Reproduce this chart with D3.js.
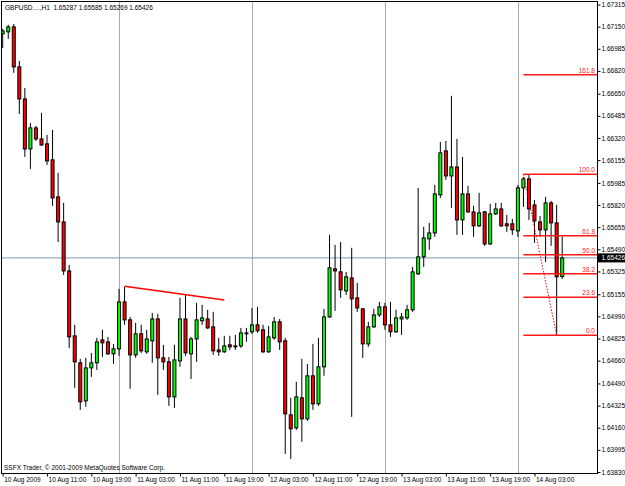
<!DOCTYPE html>
<meta charset="utf-8">
<title>GBPUSD H1</title>
<script src="https://d3js.org/d3.v7.min.js"></script>
<style>
    body { margin: 0; background: #fff; }
    svg text { font-family: "Liberation Sans", Arial, sans-serif; font-size: 6.5px; fill: #000; white-space: pre; }
</style>
<body>
<div id="chart"></div>
<script type="text/javascript">
    // H1 bars, 10 Aug 2009 03:00 .. 14 Aug 2009 08:00
    var opens = [1.67096, 1.67111, 1.67148, 1.66850, 1.66611, 1.66238, 1.66395, 1.66313, 1.66276, 1.66157,
        1.65881, 1.65694, 1.65329, 1.64845, 1.64644, 1.64360, 1.64606, 1.64644, 1.64815, 1.64800,
        1.64711, 1.64748, 1.65098, 1.64964, 1.64703, 1.64860, 1.64726, 1.64808, 1.64971, 1.64681,
        1.64651, 1.64390, 1.64658, 1.64971, 1.64711, 1.64822, 1.64957, 1.64971, 1.64912, 1.64740,
        1.64726, 1.64778, 1.64770, 1.64770, 1.64860, 1.64875, 1.64927, 1.64890, 1.64726, 1.64830,
        1.64949, 1.64808, 1.64256, 1.64159, 1.64383, 1.64226, 1.64547, 1.64338, 1.64614, 1.64986,
        1.65344, 1.65322, 1.65180, 1.65277, 1.65128, 1.65046, 1.64785, 1.64912, 1.65001, 1.65061,
        1.64927, 1.64875, 1.64971, 1.64979, 1.65039, 1.65307, 1.65434, 1.65568, 1.65612, 1.65896,
        1.66224, 1.66037, 1.66104, 1.65709, 1.65903, 1.65769, 1.65665, 1.65769, 1.65530, 1.65754,
        1.65791, 1.65680, 1.65680, 1.65627, 1.65948, 1.66015, 1.65821, 1.65694, 1.65635, 1.65836,
        1.65687, 1.65287];
    var highs = [1.67133, 1.67163, 1.67170, 1.66894, 1.66693, 1.66432, 1.66410, 1.66507, 1.66343, 1.66380,
        1.66060, 1.65836, 1.65374, 1.64927, 1.64673, 1.64681, 1.64718, 1.64830, 1.64890, 1.64837,
        1.64785, 1.65195, 1.65210, 1.64986, 1.64942, 1.64927, 1.64890, 1.65016, 1.65009, 1.64778,
        1.64688, 1.64778, 1.65128, 1.65150, 1.64837, 1.65091, 1.65076, 1.65039, 1.65024, 1.64830,
        1.64845, 1.64845, 1.64852, 1.64904, 1.64904, 1.65053, 1.65061, 1.64927, 1.64919, 1.64986,
        1.64971, 1.64830, 1.64383, 1.64502, 1.64673, 1.64636, 1.64785, 1.64830, 1.65046, 1.65598,
        1.65523, 1.65545, 1.65322, 1.65501, 1.65240, 1.65053, 1.64949, 1.65046, 1.65098, 1.65091,
        1.65098, 1.65039, 1.65016, 1.65076, 1.65359, 1.65948, 1.65657, 1.65687, 1.65970, 1.66291,
        1.66298, 1.66634, 1.66313, 1.66179, 1.65963, 1.65814, 1.65911, 1.65776, 1.65829, 1.65836,
        1.65836, 1.65747, 1.65717, 1.65970, 1.66030, 1.66050, 1.65858, 1.65739, 1.65881, 1.65851,
        1.65821, 1.65585];
    var lows = [1.66991, 1.67058, 1.66805, 1.66499, 1.66179, 1.66089, 1.66298, 1.66261, 1.66119, 1.65814,
        1.65545, 1.65299, 1.64755, 1.64457, 1.64293, 1.64316, 1.64539, 1.64591, 1.64688, 1.64703,
        1.64636, 1.64696, 1.64927, 1.64450, 1.64681, 1.64718, 1.64711, 1.64644, 1.64405, 1.64591,
        1.64323, 1.64308, 1.64614, 1.64696, 1.64524, 1.64651, 1.64927, 1.64897, 1.64703, 1.64696,
        1.64718, 1.64740, 1.64740, 1.64755, 1.64800, 1.64860, 1.64867, 1.64718, 1.64718, 1.64815,
        1.64740, 1.63965, 1.63928, 1.64144, 1.64055, 1.64211, 1.64293, 1.64323, 1.64547, 1.64979,
        1.65031, 1.65128, 1.65150, 1.64241, 1.65024, 1.64681, 1.64763, 1.64904, 1.64986, 1.64890,
        1.64837, 1.64867, 1.64852, 1.64964, 1.65024, 1.65299, 1.65359, 1.65486, 1.65583, 1.65873,
        1.66007, 1.65799, 1.65598, 1.65598, 1.65762, 1.65583, 1.65657, 1.65516, 1.65523, 1.65747,
        1.65657, 1.65620, 1.65598, 1.65583, 1.65806, 1.65709, 1.65538, 1.65583, 1.65396, 1.65516,
        1.64850, 1.65269];
    var closes = [1.67118, 1.67148, 1.66850, 1.66611, 1.66238, 1.66395, 1.66313, 1.66268, 1.66149, 1.65873,
        1.65694, 1.65329, 1.64837, 1.64651, 1.64353, 1.64606, 1.64644, 1.64800, 1.64793, 1.64711,
        1.64748, 1.65098, 1.64964, 1.64703, 1.64860, 1.64733, 1.64822, 1.64971, 1.64681, 1.64651,
        1.64390, 1.64666, 1.64971, 1.64718, 1.64822, 1.64964, 1.64979, 1.64904, 1.64733, 1.64726,
        1.64770, 1.64763, 1.64763, 1.64867, 1.64867, 1.64927, 1.64882, 1.64726, 1.64837, 1.64949,
        1.64800, 1.64264, 1.64152, 1.64390, 1.64226, 1.64547, 1.64338, 1.64614, 1.64986, 1.65352,
        1.65329, 1.65188, 1.65285, 1.65121, 1.65053, 1.64785, 1.64912, 1.65001, 1.65061, 1.64927,
        1.64875, 1.64979, 1.64986, 1.65039, 1.65322, 1.65434, 1.65575, 1.65612, 1.65903, 1.66209,
        1.66037, 1.66104, 1.65709, 1.65903, 1.65769, 1.65665, 1.65762, 1.65530, 1.65754, 1.65791,
        1.65665, 1.65665, 1.65635, 1.65948, 1.66015, 1.65791, 1.65702, 1.65635, 1.65836, 1.65687,
        1.65285, 1.65426];

    var timeLabels = ["10 Aug 2009", "10 Aug 11:00", "10 Aug 19:00", "11 Aug 03:00", "11 Aug 11:00",
        "11 Aug 19:00", "12 Aug 03:00", "12 Aug 11:00", "12 Aug 19:00", "13 Aug 03:00",
        "13 Aug 11:00", "13 Aug 19:00", "14 Aug 03:00"];
    var labelBars = [0, 8, 16, 24, 32, 40, 48, 56, 64, 72, 80, 88, 96];
    var daySeparators = [21, 45, 69, 93];   // first bar of 11, 12, 13, 14 Aug

    var priceTicks = [1.67315, 1.67150, 1.66985, 1.66820, 1.66650, 1.66485, 1.66320, 1.66155, 1.65985,
        1.65820, 1.65655, 1.65490, 1.65325, 1.65155, 1.64990, 1.64825, 1.64660, 1.64490, 1.64325,
        1.64160, 1.63995, 1.63830];

    var bid = 1.65426;
    var trendBars = [22, 40];
    var trendPrices = [1.65214, 1.65113];
    var fiboBars = [94, 100];
    var fiboPrices = [1.66050, 1.64850];
    var fiboLevels = [0, 23.6, 38.2, 50, 61.8, 100, 161.8];

    var width = 625, height = 486;
    var plotL = 1.5, plotT = 1.5, plotR = 597.5, plotB = 473.5;

    var svg = d3.select("#chart").append("svg")
        .attr("width", width)
        .attr("height", height);

    svg.append("rect").attr("width", width).attr("height", height).attr("fill", "#fff");

    var x = d3.scaleLinear().domain([0, 101]).range([2.7, 562.2]);
    var y = d3.scaleLinear().domain([1.63830, 1.67315]).range([472, 4.5]);

    svg.append("clipPath").attr("id", "clip")
        .append("rect")
        .attr("x", plotL + 0.5).attr("y", plotT + 0.5)
        .attr("width", plotR - plotL - 1).attr("height", plotB - plotT - 1);

    var plot = svg.append("g").attr("clip-path", "url(#clip)");

    // period separators
    plot.selectAll("line.sep")
        .data(daySeparators)
        .enter()
        .append("line")
        .attr("class", "sep")
        .attr("x1", function (d) { return Math.round(x(d)) + 0.5; })
        .attr("x2", function (d) { return Math.round(x(d)) + 0.5; })
        .attr("y1", plotT)
        .attr("y2", plotB)
        .attr("stroke", "#555")
        .attr("stroke-dasharray", "1,1");

    // bid line
    plot.append("line")
        .attr("x1", plotL).attr("x2", plotR)
        .attr("y1", y(bid)).attr("y2", y(bid))
        .attr("stroke", "#8398b8");

    // candles
    var bars = plot.selectAll("g.bar")
        .data(d3.range(opens.length))
        .enter()
        .append("g")
        .attr("class", "bar");

    bars.append("line")
        .attr("x1", function (i) { return x(i); })
        .attr("x2", function (i) { return x(i); })
        .attr("y1", function (i) { return y(highs[i]); })
        .attr("y2", function (i) { return y(lows[i]); })
        .attr("stroke", "#000");

    bars.append("rect")
        .attr("x", function (i) { return x(i) - 1.5; })
        .attr("width", 3)
        .attr("y", function (i) { return y(Math.max(opens[i], closes[i])); })
        .attr("height", function (i) { return Math.abs(y(opens[i]) - y(closes[i])); })
        .attr("fill", function (i) { return closes[i] >= opens[i] ? "#00ff00" : "#ff0000"; })
        .attr("stroke", "#000");

    // trendline
    plot.append("line")
        .attr("x1", x(trendBars[0])).attr("y1", y(trendPrices[0]))
        .attr("x2", x(trendBars[1])).attr("y2", y(trendPrices[1]))
        .attr("stroke", "#ff0000")
        .attr("stroke-width", 1.5);

    // fibo retracement
    var fiboRange = fiboPrices[0] - fiboPrices[1];
    plot.append("line")
        .attr("x1", x(fiboBars[0])).attr("y1", y(fiboPrices[0]))
        .attr("x2", x(fiboBars[1])).attr("y2", y(fiboPrices[1]))
        .attr("stroke", "#ff0000")
        .attr("stroke-dasharray", "1.5,1.5");

    var fibo = plot.selectAll("g.fibo")
        .data(fiboLevels)
        .enter()
        .append("g")
        .attr("class", "fibo");

    fibo.append("line")
        .attr("x1", x(fiboBars[0]))
        .attr("x2", plotR)
        .attr("y1", function (d) { return y(fiboPrices[1] + fiboRange * d / 100); })
        .attr("y2", function (d) { return y(fiboPrices[1] + fiboRange * d / 100); })
        .attr("stroke", "#ff1a1a")
        .attr("stroke-width", 1.5);

    fibo.append("text")
        .attr("x", 595)
        .attr("y", function (d) { return y(fiboPrices[1] + fiboRange * d / 100) - 1.8; })
        .attr("text-anchor", "end")
        .style("fill", "#ff2020")
        .text(function (d) { return d.toFixed(1); });

    // frame
    svg.append("rect")
        .attr("x", plotL).attr("y", plotT)
        .attr("width", plotR - plotL).attr("height", plotB - plotT)
        .attr("fill", "none")
        .attr("stroke", "#000");

    // price axis
    var yAxis = svg.append("g")
        .attr("transform", "translate(" + plotR + ",0)")
        .call(d3.axisRight(y)
            .tickValues(priceTicks)
            .tickFormat(d3.format(".5f"))
            .tickSize(3)
            .tickSizeOuter(0)
            .tickPadding(1));
    yAxis.select(".domain").remove();
    yAxis.attr("font-size", null).attr("font-family", null);

    // bid label
    svg.append("rect")
        .attr("x", 598).attr("y", y(bid) - 4.5)
        .attr("width", 27).attr("height", 9)
        .attr("fill", "#000");
    svg.append("text")
        .attr("x", 601.5).attr("y", y(bid))
        .attr("dy", "0.34em")
        .style("fill", "#fff")
        .text(d3.format(".5f")(bid));

    // time axis
    var xAxis = svg.append("g")
        .attr("transform", "translate(0," + plotB + ")")
        .call(d3.axisBottom(x)
            .tickValues(labelBars)
            .tickFormat(function (d, i) { return timeLabels[i]; })
            .tickSize(3)
            .tickSizeOuter(0)
            .tickPadding(1));
    xAxis.select(".domain").remove();
    xAxis.attr("font-size", null).attr("font-family", null);
    xAxis.selectAll("text").attr("text-anchor", "start").attr("x", 1);

    svg.append("text")
        .attr("x", 5).attr("y", 10)
        .text("GBPUSD....,H1  " + [opens[101], highs[101], lows[101], closes[101]].map(d3.format(".5f")).join(" "));

    svg.append("text")
        .attr("x", 4).attr("y", 469.5)
        .text("SSFX Trader, \u00a9 2001-2009 MetaQuotes Software Corp.");
</script>
</body>
